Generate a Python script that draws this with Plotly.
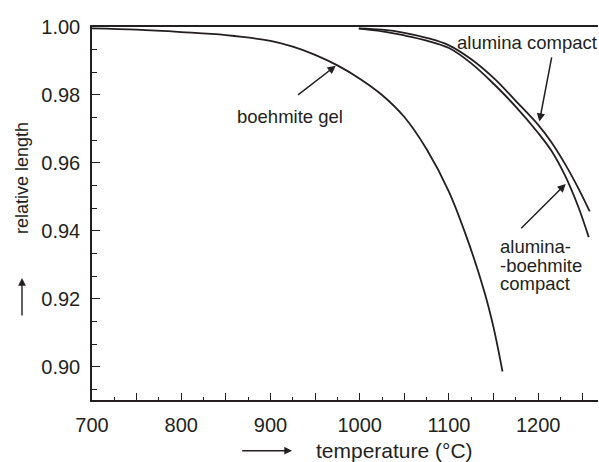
import plotly.graph_objects as go

# ---- data ----
gel_T = [700, 750, 800, 850, 900, 925, 950, 975, 1000, 1025, 1050, 1075, 1100, 1120, 1140, 1150, 1160]
gel_L = [0.9996, 0.9992, 0.9985, 0.9976, 0.9959, 0.9942, 0.9918, 0.9887, 0.9848, 0.9800, 0.9735, 0.9640, 0.9515, 0.9380, 0.9218, 0.9115, 0.8986]

alu_T = [999, 1025, 1050, 1075, 1100, 1125, 1150, 1175, 1200, 1215, 1230, 1245, 1257.7]
alu_L = [0.9996, 0.9992, 0.9983, 0.9968, 0.9946, 0.9905, 0.9850, 0.9782, 0.9712, 0.9660, 0.9597, 0.9525, 0.9457]

ab_T = [999, 1025, 1050, 1075, 1100, 1125, 1150, 1175, 1200, 1215, 1230, 1245, 1256.6]
ab_L = [0.9995, 0.9987, 0.9975, 0.9960, 0.9938, 0.9893, 0.9833, 0.9765, 0.9688, 0.9635, 0.9563, 0.9470, 0.93815]

x_ticks = [700, 750, 800, 850, 900, 950, 1000, 1050, 1100, 1150, 1200, 1250]
x_labels = ["700", "", "800", "", "900", "", "1000", "", "1100", "", "1200", ""]
y_ticks = [0.90, 0.92, 0.94, 0.96, 0.98, 1.00]
y_labels = ["0.90", "0.92", "0.94", "0.96", "0.98", "1.00"]

INK = "#231f20"
FONT = "Liberation Sans, Arial, sans-serif"

fig = go.Figure()
for T, L in [(gel_T, gel_L), (alu_T, alu_L), (ab_T, ab_L)]:
    fig.add_trace(go.Scatter(x=T, y=L, mode="lines", line=dict(color=INK, width=1.8, shape="spline", smoothing=1.0),
                             showlegend=False, hoverinfo="skip"))

def arrow(tip, tail):
    fig.add_annotation(x=tip[0], y=tip[1], ax=tail[0], ay=tail[1], xref="x", yref="y", axref="x", ayref="y",
                       text="", showarrow=True, arrowhead=2, arrowsize=1.1, arrowwidth=1.5, arrowcolor=INK)

arrow((973.2, 0.98862), (929.2, 0.9797))
arrow((1201.3, 0.97215), (1215.4, 0.99147))
arrow((1230.8, 0.9538), (1179.3, 0.9403))

def label(text, x, y, xanchor="center"):
    fig.add_annotation(x=x, y=y, xref="x", yref="y", text=text, showarrow=False, xanchor=xanchor, yanchor="middle",
                       font=dict(family=FONT, size=18.5, color=INK))

label("boehmite gel", 922.4, 0.9738)
label("alumina compact", 1187.4, 0.99544)
label("alumina-", 1154.9, 0.93539, "left")
label("-boehmite", 1154.9, 0.92994, "left")
label("compact", 1154.9, 0.92450, "left")

# axis titles with arrows (paper coords from pixel positions)
L_, T_, W_, H_ = 92, 27, 506, 373
def px(xp): return (xp - L_) / W_
def py(yp): return 1 - (yp - T_) / H_

fig.add_annotation(x=px(394), y=py(450), xref="paper", yref="paper", text="temperature (°C)", showarrow=False,
                   xanchor="center", yanchor="middle", font=dict(family=FONT, size=21, color=INK))
fig.add_annotation(x=px(22), y=py(178), xref="paper", yref="paper", text="relative length", showarrow=False,
                   textangle=-90, xanchor="center", yanchor="middle", font=dict(family=FONT, size=18, color=INK))
fig.add_annotation(x=px(292), y=py(450.7), ax=-51.3, ay=0, xref="paper", yref="paper",
                   axref="pixel", ayref="pixel", text="", showarrow=True, arrowhead=2, arrowsize=1.1,
                   arrowwidth=1.4, arrowcolor=INK)
fig.add_annotation(x=px(22), y=py(278), ax=0, ay=39, xref="paper", yref="paper",
                   axref="pixel", ayref="pixel", text="", showarrow=True, arrowhead=2, arrowsize=1.1,
                   arrowwidth=1.4, arrowcolor=INK)

fig.update_xaxes(range=[700, 1267], tickvals=x_ticks, ticktext=x_labels, ticks="inside", ticklen=7, tickwidth=1.3,
                 tickcolor=INK, showline=True, linecolor=INK, linewidth=1.5, mirror=True, showgrid=False,
                 zeroline=False, tickfont=dict(family=FONT, size=20, color=INK), ticklabelstandoff=6,
                 minor=dict(tickvals=[725 + 50 * i for i in range(11)], ticks="inside", ticklen=3.5, tickcolor=INK, tickwidth=1.2, showgrid=False))
fig.update_yaxes(range=[0.8902, 1.0], tickvals=y_ticks, ticktext=y_labels, ticks="inside", ticklen=8, tickwidth=1.3,
                 tickcolor=INK, showline=True, linecolor=INK, linewidth=1.5, showgrid=False, zeroline=False,
                 tickfont=dict(family=FONT, size=20, color=INK), ticklabelstandoff=6,
                 minor=dict(dtick=0.02 / 3, tick0=0.90, ticks="inside", ticklen=5, tickcolor=INK, tickwidth=1.2, showgrid=False))

fig.update_layout(width=599, height=462, margin=dict(l=92, r=1, t=27, b=62), plot_bgcolor="white",
                  paper_bgcolor="white", showlegend=False)

fig.write_html("out.html", config={"displayModeBar": False},
               post_script="document.body.style.margin='0px';document.body.style.overflow='hidden';")
